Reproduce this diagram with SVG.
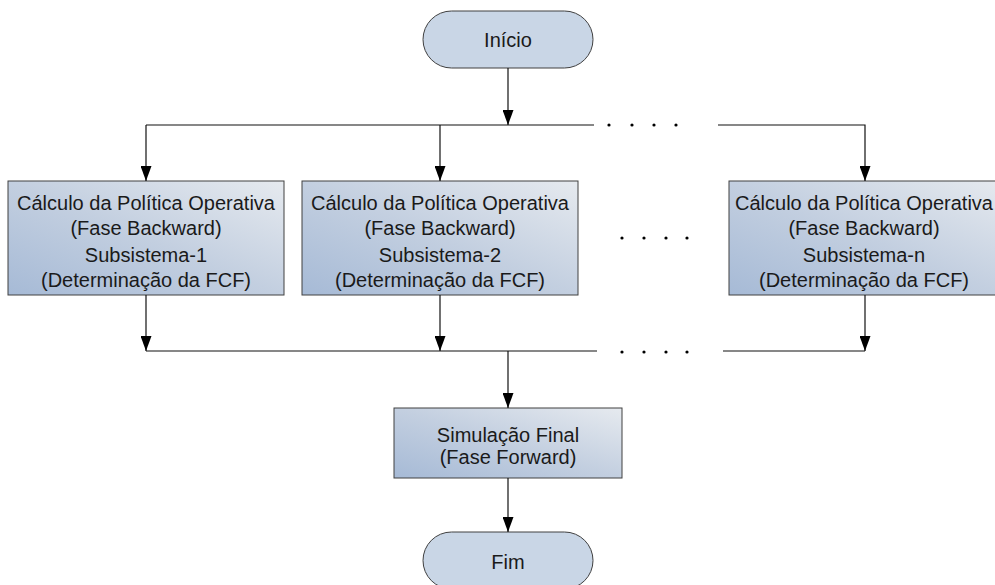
<svg xmlns="http://www.w3.org/2000/svg" width="995" height="585" viewBox="0 0 995 585">
<style>
.term{fill:#c9d6e6;stroke:#404040;stroke-width:1}
.box{fill:url(#g);stroke:#404040;stroke-width:1}
.t{font-family:"Liberation Sans",Arial,sans-serif;font-size:20px;fill:#1a1a1a;text-anchor:middle}
.c{fill:none;stroke:#111;stroke-width:1.2}
.dot{fill:#000}
</style>
<defs>
<linearGradient id="g" x1="0" y1="1" x2="1" y2="0">
<stop offset="0" stop-color="#a6bad6"/>
<stop offset="0.5" stop-color="#c3cfe0"/>
<stop offset="1" stop-color="#e6eaef"/>
</linearGradient>
<marker id="a" markerWidth="15" markerHeight="11" refX="15" refY="5.5" orient="auto" markerUnits="userSpaceOnUse" viewBox="0 0 15 11">
<path d="M0,0 L15,5.5 L0,11 Z" fill="#000"/>
</marker>
</defs>
<g id="inicio"><rect class="term" x="423" y="11" width="170" height="57" rx="28.5"/><text class="t" x="508" y="47">Início</text></g>
<g id="sub1"><rect class="box" x="8" y="181" width="276" height="114"/>
<text class="t" x="146" y="210">Cálculo da Política Operativa</text>
<text class="t" x="146" y="235">(Fase Backward)</text>
<text class="t" x="146" y="262">Subsistema-1</text>
<text class="t" x="146" y="287">(Determinação da FCF)</text></g>
<g id="sub2"><rect class="box" x="302" y="181" width="276" height="114"/>
<text class="t" x="440" y="210">Cálculo da Política Operativa</text>
<text class="t" x="440" y="235">(Fase Backward)</text>
<text class="t" x="440" y="262">Subsistema-2</text>
<text class="t" x="440" y="287">(Determinação da FCF)</text></g>
<g id="subn"><rect class="box" x="729" y="181" width="276" height="114"/>
<text class="t" x="864" y="210">Cálculo da Política Operativa</text>
<text class="t" x="864" y="235">(Fase Backward)</text>
<text class="t" x="864" y="262">Subsistema-n</text>
<text class="t" x="864" y="287">(Determinação da FCF)</text></g>
<g id="sim"><rect class="box" x="394" y="408" width="228" height="70"/>
<text class="t" x="508" y="442">Simulação Final</text>
<text class="t" x="508" y="464">(Fase Forward)</text></g>
<g id="fim"><rect class="term" x="423" y="532" width="170" height="57" rx="28.5"/><text class="t" x="508" y="569">Fim</text></g>
<g id="connectors">
<path class="c" d="M508,68 V125" marker-end="url(#a)"/>
<path class="c" d="M146,125 H594"/>
<path class="c" d="M146,125 V181" marker-end="url(#a)"/>
<path class="c" d="M440,125 V181" marker-end="url(#a)"/>
<path class="c" d="M718,125 H865 V181" marker-end="url(#a)"/>
<path class="c" d="M146,295 V351" marker-end="url(#a)"/>
<path class="c" d="M440,295 V351" marker-end="url(#a)"/>
<path class="c" d="M865,295 V351" marker-end="url(#a)"/>
<path class="c" d="M146,351 H597"/>
<path class="c" d="M723,351 H865"/>
<path class="c" d="M508,351 V408" marker-end="url(#a)"/>
<path class="c" d="M508,478 V532" marker-end="url(#a)"/>
</g>
<g id="dots">
<circle class="dot" cx="609" cy="125" r="1.6"/><circle class="dot" cx="632" cy="125" r="1.6"/><circle class="dot" cx="654" cy="125" r="1.6"/><circle class="dot" cx="676" cy="125" r="1.6"/>
<circle class="dot" cx="622" cy="238" r="1.6"/><circle class="dot" cx="644" cy="238" r="1.6"/><circle class="dot" cx="666" cy="238" r="1.6"/><circle class="dot" cx="687" cy="238" r="1.6"/>
<circle class="dot" cx="622" cy="352" r="1.6"/><circle class="dot" cx="644" cy="352" r="1.6"/><circle class="dot" cx="666" cy="352" r="1.6"/><circle class="dot" cx="687" cy="352" r="1.6"/>
</g>
</svg>
